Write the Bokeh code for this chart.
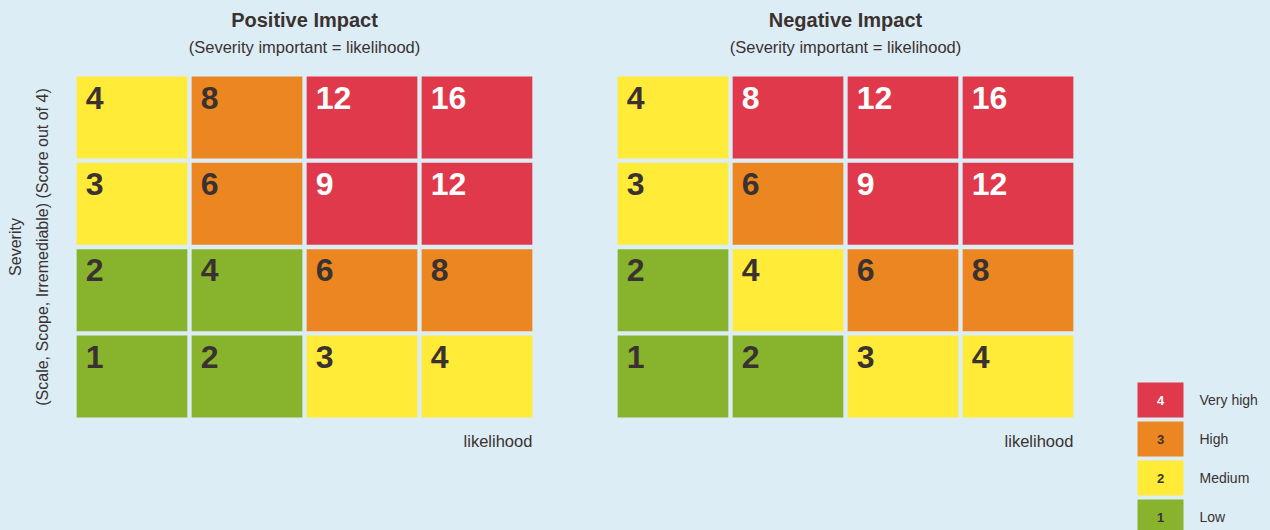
from bokeh.plotting import figure
from bokeh.models import Range1d, ColumnDataSource
from bokeh.core.properties import value
from bokeh.embed import file_html
from bokeh.resources import INLINE
import math

# ---------------- data ----------------
likelihood = [1, 2, 3, 4]
severity = [4, 3, 2, 1]                      # rows, top to bottom
scores = [[4, 8, 12, 16],
          [3, 6, 9, 12],
          [2, 4, 6, 8],
          [1, 2, 3, 4]]
positive_levels = [[2, 3, 4, 4],
                   [2, 3, 4, 4],
                   [1, 1, 3, 3],
                   [1, 1, 2, 2]]
negative_levels = [[2, 4, 4, 4],
                   [2, 3, 4, 4],
                   [1, 2, 3, 3],
                   [1, 1, 2, 2]]
panel_titles = ["Positive Impact", "Negative Impact"]
panel_subtitle = "(Severity important = likelihood)"
x_label = "likelihood"
y_label_lines = ["Severity", "(Scale, Scope, Irremediable) (Score out of 4)"]
legend_levels = [4, 3, 2, 1]
legend_names = ["Very high", "High", "Medium", "Low"]

# ---------------- style ----------------
level_colors = {4: "#E0394B", 3: "#EC8620", 2: "#FFEB38", 1: "#88B42D"}
level_text = {4: "#FFFFFF", 3: "#3A3230", 2: "#3A3230", 1: "#3A3230"}
BG = "#DCEDF6"
DARK = "#3A3230"
FONT = "Liberation Sans"

W, H = 1270, 530
SX, SY = 115.0, 86.33          # px per data unit
X0, Y0 = 16.5, 462.33          # screen px of data 0
PANEL_OFFSET = (617 - 76) / SX
CW, CH = 110.7 / SX, 82.0 / SY


def dx(px):
    return (px - X0) / SX


def dy(py):
    return (Y0 - py) / SY


p = figure(width=W, height=H, output_backend="svg", toolbar_location=None,
           x_range=Range1d(dx(0), dx(W)), y_range=Range1d(dy(H), dy(0)),
           min_border=0, background_fill_color=BG, border_fill_color=BG)
p.axis.visible = False
p.grid.visible = False
p.outline_line_color = None

for k, (levels, title) in enumerate(zip([positive_levels, negative_levels], panel_titles)):
    off = k * PANEL_OFFSET
    xs, ys, cols, txt, tcol, tx, ty = [], [], [], [], [], [], []
    for r, s in enumerate(severity):
        for c, l in enumerate(likelihood):
            lv = levels[r][c]
            xs.append(l + off)
            ys.append(s)
            cols.append(level_colors[lv])
            txt.append(str(scores[r][c]))
            tcol.append(level_text[lv])
            tx.append(l + off - CW / 2 + 9 / SX)
            ty.append(s + CH / 2 - 21 / SY)
    src = ColumnDataSource(dict(x=xs, y=ys, color=cols, t=txt, tc=tcol, tx=tx, ty=ty))
    p.rect(x="x", y="y", width=CW, height=CH, fill_color="color", line_color=None, source=src)
    p.text(x="tx", y="ty", text="t", text_color="tc", source=src,
           text_font=value(FONT), text_font_style="bold", text_font_size="32px",
           text_align="left", text_baseline="middle")
    cx = off + (likelihood[0] + likelihood[-1]) / 2
    p.text(x=[cx], y=[dy(19.5)], text=[title], text_font=value(FONT),
           text_font_style="bold", text_font_size="20px", text_color=DARK,
           text_align="center", text_baseline="middle")
    p.text(x=[cx], y=[dy(46.5)], text=[panel_subtitle], text_font=value(FONT),
           text_font_size="16.5px", text_color=DARK,
           text_align="center", text_baseline="middle")
    p.text(x=[likelihood[-1] + off + CW / 2], y=[dy(440)], text=[x_label],
           text_font=value(FONT), text_font_size="16.5px", text_color=DARK,
           text_align="right", text_baseline="middle")

# y label (two rotated lines)
ymid = (severity[0] + severity[-1]) / 2
p.text(x=[dx(15), dx(42)], y=[ymid, ymid], text=y_label_lines, angle=math.pi / 2,
       text_font=value(FONT), text_font_size="16px", text_color=DARK,
       text_align="center", text_baseline="middle")

# legend
lx = dx(1160)
lys = [dy(399.5 + 39 * i) for i in range(len(legend_levels))]
lsrc = ColumnDataSource(dict(
    x=[lx] * len(legend_levels), y=lys,
    color=[level_colors[v] for v in legend_levels],
    t=[str(v) for v in legend_levels],
    tc=[level_text[v] for v in legend_levels],
    lx=[dx(1199)] * len(legend_levels),
    name=legend_names))
p.rect(x="x", y="y", width=46 / SX, height=35 / SY, fill_color="color",
       line_color=None, source=lsrc)
p.text(x="x", y="y", text="t", text_color="tc", source=lsrc, text_font=value(FONT),
       text_font_style="bold", text_font_size="13px", text_align="center",
       text_baseline="middle")
p.text(x="lx", y="y", text="name", source=lsrc, text_font=value(FONT),
       text_font_size="14px", text_color=DARK, text_align="left",
       text_baseline="middle")

html = file_html(p, INLINE)
html = html.replace("<head>",
                    "<head><style>html,body{margin:0;padding:0;overflow:hidden;background:%s;}</style>" % BG, 1)
open("out.html", "w").write(html)
